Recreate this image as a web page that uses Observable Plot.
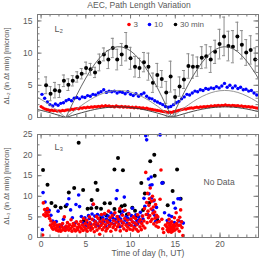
<!DOCTYPE html>
<html><head><meta charset="utf-8">
<script src="https://cdn.jsdelivr.net/npm/d3@7"></script>
<script src="https://cdn.jsdelivr.net/npm/@observablehq/plot@0.6"></script>
<style>
html,body{margin:0;padding:0;background:#fff;}
#chart{position:relative;width:259px;height:258px;overflow:hidden;}
#chart svg{position:absolute;left:0;display:block;}
</style></head><body><div id="chart"></div>
<script>
// ---------- texts ----------
const title = "AEC, Path Length Variation";
const yLabelTop = "ΔL₂ (in Δt min) [micron]";
const yLabelBot = "ΔL₃ (in Δt min) [micron]";
const xLabel = "Time of day (h, UT)";
const panelTop = "L₂";
const panelBot = "L₃";
const noData = "No Data";
const legendLabels = ["3", "10", "30 min"];
const seriesColors = ["#ff0000", "#0000ff", "#000000"];

// ---------- ticks ----------
const xMajor = [0, 5, 10, 15, 20];
const xMinor = [0,1,2,3,4,5,6,7,8,9,10,11,12,13,14,15,16,17,18,19,20,21,22,23,24];
const yTopMajor = [0, 5, 10, 15];
const yTopMinor = [0,1,2,3,4,5,6,7,8,9,10,11,12,13,14,15,16];
const yBotMajor = [0, 5, 10, 15, 20, 25];
const yBotMinor = [0,2.5,5,7.5,10,12.5,15,17.5,20,22.5,25];

// ---------- top panel: L2, 30 min (with errors) ----------
const hours30 = [0.56,1.06,1.55,2.05,2.55,3.05,3.54,4.04,4.54,5.03,5.53,6.03,6.52,7.02,7.52,8.02,8.51,9.01,9.51,10.0,10.5,11.0,11.5,12.0,12.5,12.99,13.49,13.99,14.48,14.98,15.48,15.97,16.47,16.97,17.47,17.96,18.46,18.96,19.45,19.95,20.45,20.94,21.44,21.94,22.44,22.93,23.43,23.93];
const dl2_30 = [5.0,3.7,4.25,4.1,5.7,5.1,5.7,6.3,6.8,7.7,7.5,7.0,8.55,9.8,9.0,10.8,9.0,9.8,11.0,9.2,7.9,7.7,8.6,7.9,5.4,6.6,6.0,3.9,6.35,3.2,4.8,5.9,8.0,7.9,7.9,9.3,9.5,9.0,10.2,11.4,12.6,11.1,11.0,12.6,11.3,10.1,10.5,9.0];
const err30 = [1.3,1.1,1.2,1.0,0.9,0.9,0.8,0.8,0.8,0.9,0.9,0.8,1.3,1.0,1.4,1.5,1.6,1.7,2.2,1.7,1.6,1.5,1.5,2.1,1.5,1.8,1.3,1.7,2.4,1.1,1.5,1.4,1.9,1.8,1.5,1.7,1.8,2.0,1.8,2.3,3.0,2.3,2.5,2.2,2.2,2.0,2.2,1.8];

// ---------- top panel: L2, 10 min ----------
const hours10 = [0.1,0.4,0.7,1.0,1.3,1.6,1.9,2.2,2.5,2.8,3.1,3.4,3.7,4.0,4.3,4.6,4.9,5.2,5.5,5.8,6.1,6.4,6.7,7.0,7.3,7.6,7.9,8.2,8.5,8.8,9.1,9.4,9.7,10.0,10.3,10.6,10.9,11.2,11.5,11.8,12.1,12.4,12.7,13.0,13.3,13.6,13.9,14.2,14.5,14.8,15.1,15.4,15.7,16.0,16.3,16.6,16.9,17.2,17.5,17.8,18.1,18.4,18.7,19.0,19.3,19.6,19.9,20.2,20.5,20.8,21.1,21.4,21.7,22.0,22.3,22.6,22.9,23.2,23.5,23.8,24.1];
const dl2_10 = [3.6,3.0,2.4,2.0,1.8,2.1,1.9,2.2,2.3,2.6,2.8,2.6,3.0,3.1,2.9,3.2,3.1,3.4,3.3,3.6,3.5,3.8,4.0,4.3,3.9,4.1,4.0,4.1,3.8,4.0,3.9,3.7,4.0,3.6,3.4,3.7,3.3,3.6,3.8,3.3,3.0,2.9,2.6,2.4,2.2,2.0,1.7,1.6,1.7,2.0,2.3,2.5,2.9,3.2,3.6,3.5,3.8,4.1,4.0,4.3,4.2,4.5,4.4,4.6,4.5,4.8,4.6,4.9,5.3,4.7,5.0,4.6,4.9,4.5,4.7,4.3,4.4,4.1,4.2,3.8,3.5];

// ---------- top panel: L2, 3 min ----------
const hours3 = [0.0,0.2,0.4,0.6,0.8,1.0,1.2,1.4,1.6,1.8,2.0,2.2,2.4,2.6,2.8,3.0,3.2,3.4,3.6,3.8,4.0,4.2,4.4,4.6,4.8,5.0,5.2,5.4,5.6,5.8,6.0,6.2,6.4,6.6,6.8,7.0,7.2,7.4,7.6,7.8,8.0,8.2,8.4,8.6,8.8,9.0,9.2,9.4,9.6,9.8,10.0,10.2,10.4,10.6,10.8,11.0,11.2,11.4,11.6,11.8,12.0,12.2,12.4,12.6,12.8,13.0,13.2,13.4,13.6,13.8,14.0,14.2,14.4,14.6,14.8,15.0,15.2,15.4,15.6,15.8,16.0,16.2,16.4,16.6,16.8,17.0,17.2,17.4,17.6,17.8,18.0,18.2,18.4,18.6,18.8,19.0,19.2,19.4,19.6,19.8,20.0,20.2,20.4,20.6,20.8,21.0,21.2,21.4,21.6,21.8,22.0,22.2,22.4,22.6,22.8,23.0,23.2,23.4,23.6,23.8,24.0,24.2];
const dl2_3 = [1.7,1.5,1.35,1.25,1.2,1.1,1.15,1.05,1.1,1.0,1.05,1.0,1.1,1.05,1.15,1.2,1.15,1.3,1.25,1.35,1.4,1.35,1.5,1.45,1.55,1.5,1.6,1.55,1.65,1.6,1.7,1.65,1.75,1.7,1.8,1.7,1.85,1.75,1.8,1.7,1.75,1.65,1.8,1.7,1.65,1.75,1.6,1.7,1.6,1.65,1.55,1.6,1.5,1.6,1.5,1.55,1.45,1.5,1.4,1.45,1.35,1.3,1.25,1.2,1.15,1.1,1.05,1.0,0.95,0.9,0.85,0.8,0.85,0.8,0.9,0.95,1.05,1.1,1.2,1.25,1.35,1.3,1.4,1.45,1.5,1.45,1.55,1.6,1.55,1.65,1.6,1.7,1.65,1.75,1.7,1.8,1.75,1.85,1.8,1.9,1.8,1.9,1.85,1.95,1.85,1.9,1.8,1.9,1.85,1.8,1.85,1.75,1.8,1.7,1.75,1.65,1.7,1.6,1.65,1.55,1.5,1.45];

// ---------- top panel: model curves (null = not drawn) ----------
const modelHours = [-0.4,0,0.5,1,1.5,2,2.5,2.77,3,3.5,4,4.5,5,5.5,6,6.5,7,7.5,8,8.5,9,9.5,10,10.5,11,11.5,12,12.5,13,13.5,14,14.5,14.62,15,15.5,16,16.5,17,17.5,18,18.5,19,19.5,20,20.5,21,21.5,22,22.5,23,23.5,24,24.3];
const model30 = [null,null,null,null,null,null,null,0,0.67,2.11,3.52,4.87,6.13,7.28,8.31,9.19,9.91,10.45,10.81,10.99,10.97,10.75,10.35,9.76,9.01,8.10,7.04,5.86,4.60,3.23,1.80,0.35,0,1.10,2.54,3.93,5.25,6.48,7.59,8.57,9.41,10.09,10.58,10.89,11.00,10.91,10.64,10.18,9.54,8.73,7.78,6.72,6.01];
const model10 = [3.13,2.81,2.38,1.90,1.39,0.85,0.30,0,0.26,0.81,1.34,1.86,2.34,2.78,3.17,3.51,3.78,3.99,4.13,4.20,4.19,4.10,3.95,3.73,3.44,3.09,2.69,2.24,1.76,1.23,0.69,0.13,0,0.42,0.97,1.50,2.00,2.47,2.90,3.27,3.59,3.85,4.04,4.16,4.20,4.17,4.06,3.89,3.64,3.33,2.97,2.57,2.29];
const model3 = [1.23,1.11,0.93,0.75,0.54,0.33,0.12,0,0.10,0.32,0.53,0.73,0.92,1.09,1.25,1.38,1.49,1.57,1.62,1.65,1.64,1.61,1.55,1.46,1.35,1.21,1.06,0.88,0.69,0.49,0.27,0.05,0,0.17,0.38,0.59,0.79,0.97,1.14,1.29,1.41,1.51,1.59,1.63,1.65,1.64,1.60,1.53,1.43,1.31,1.17,1.01,0.90];

// ---------- bottom panel: L3 ----------
const l3Hours30 = [0.22,0.72,1.16,1.6,2.2,2.75,3.1,3.7,4.2,4.7,4.8,5.2,5.6,5.65,6.1,6.3,6.2,6.7,6.6,7.1,7.3,7.7,7.6,8.2,8.6,8.2,8.8,9.15,9.0,9.35,9.6,10.2,10.5,10.7,11.2,11.6,11.4,12.2,12.65,12.7,12.1,13.0,13.6,14.15,14.7,15.2,15.6];
const l3Vals30 = [16.4,12.8,8.4,7.6,7.2,7.6,10.9,12.0,23.0,11.5,4.2,7.0,7.1,9.1,13.3,11.5,7.2,7.0,4.7,8.3,5.4,8.3,4.0,16.5,19.3,6.9,6.4,16.3,7.6,7.8,5.6,7.2,6.5,5.2,13.2,10.7,6.7,18.5,20.1,15.0,8.4,4.1,13.3,7.8,11.3,16.5,9.4];
const l3Hours10 = [0.15,0.22,0.45,0.6,0.8,0.9,1.1,1.3,1.5,1.7,1.9,2.1,2.3,2.5,2.7,2.9,3.1,3.3,3.5,3.8,3.9,4.2,4.3,4.5,4.7,4.9,5.0,5.1,5.3,5.4,5.5,5.6,5.7,5.8,5.9,6.0,6.1,6.2,6.3,6.4,6.5,6.6,6.7,6.8,6.9,7.0,7.1,7.2,7.3,7.4,7.5,7.6,7.7,7.8,7.9,8.0,8.1,8.2,8.3,8.4,8.5,8.6,8.7,8.8,8.9,9.0,9.1,9.2,9.3,9.4,9.5,9.6,9.7,9.8,9.9,10.0,10.1,10.2,10.3,10.4,10.5,10.6,10.7,10.8,10.9,11.0,11.1,11.2,11.3,11.4,11.5,11.6,11.7,11.8,11.9,12.0,12.05,12.3,12.2,12.4,12.35,12.5,12.6,12.7,12.8,12.9,13.0,13.3,13.5,13.6,13.8,14.1,14.3,14.5,14.6,14.8,14.9,15.0,15.3,15.5,15.4,15.7,15.9];
const l3Vals10 = [1.9,10.9,8.6,6.7,6.3,6.6,5.4,4.0,3.5,3.9,6.4,2.7,3.1,4.4,2.5,8.0,9.4,6.7,4.8,3.5,8.0,10.3,7.5,5.1,3.5,4.8,2.8,3.6,5.3,4.6,3.3,2.3,5.7,8.0,4.2,5.2,3.8,3.0,5.6,4.6,2.7,4.0,5.4,3.4,4.8,3.9,5.6,2.6,4.5,3.7,5.2,2.9,4.1,6.0,3.4,4.8,5.6,3.2,4.4,9.4,11.4,3.8,5.0,2.6,4.5,5.7,3.6,6.4,9.8,4.2,5.0,3.4,4.7,5.8,3.1,4.4,5.3,7.1,3.7,4.9,2.9,5.5,4.1,3.3,5.0,4.3,6.1,3.6,5.2,4.5,9.5,7.6,24.7,23.7,5.6,14.2,10.6,14.7,12.7,12.8,9.6,6.6,8.9,5.4,3.9,7.3,4.8,24.9,13.2,13.3,6.0,4.1,5.4,3.7,5.1,8.4,3.6,7.1,9.4,9.4,4.0,3.8,3.5];
const l3Hours3 = [0.18,0.25,0.3,0.4,0.5,0.55,0.65,0.7,0.8,0.85,0.95,
 1.05,1.1,1.2,1.3,1.35,1.45,1.5,1.6,1.7,1.75,1.85,1.95,
 2.05,2.1,2.2,2.3,2.4,2.45,2.55,2.6,2.7,2.8,2.9,2.95,
 3.05,3.1,3.2,3.3,3.35,3.45,3.5,3.6,3.7,3.75,3.85,3.95,
 4.05,4.1,4.2,4.3,4.35,4.45,4.5,4.6,4.7,4.75,4.85,4.95,
 5.0,5.1,5.15,5.25,5.3,5.4,5.45,5.55,5.6,5.7,5.75,5.85,5.9,5.95,
 6.05,6.1,6.2,6.25,6.35,6.4,6.5,6.55,6.6,6.7,6.75,6.85,6.9,6.95,
 7.05,7.1,7.2,7.25,7.35,7.4,7.5,7.55,7.65,7.7,7.8,7.85,7.95,
 8.05,8.1,8.2,8.25,8.35,8.4,8.5,8.55,8.65,8.7,8.8,8.85,8.95,
 9.05,9.1,9.2,9.25,9.35,9.4,9.5,9.55,9.65,9.7,9.8,9.85,9.95,
 10.05,10.1,10.2,10.25,10.35,10.4,10.5,10.55,10.65,10.7,10.8,10.85,10.95,
 11.05,11.1,11.2,11.25,11.35,11.4,11.5,11.55,11.6,11.7,11.75,11.8,11.85,11.9,11.95,
 12.0,12.05,12.1,12.15,12.2,12.25,12.3,12.35,12.4,12.45,12.5,12.55,12.6,12.65,12.7,12.75,12.8,12.85,12.9,12.95,
 13.05,13.1,13.2,13.3,13.4,13.5,13.6,13.7,13.9,
 14.05,14.1,14.15,14.2,14.25,14.3,14.35,14.4,14.45,14.5,14.55,14.6,14.65,14.7,14.75,14.8,14.85,14.9,14.95,
 15.0,15.1,15.15,15.2,15.3,15.35,15.45,15.5,15.55,15.6,15.7,15.75,15.85];
const l3Vals3 = [0.6,8.4,5.5,6.8,5.2,6.1,5.6,7.0,5.3,6.2,4.6,
 3.0,4.0,2.4,3.3,2.0,2.8,3.6,2.2,1.8,3.0,2.5,1.6,
 3.1,2.0,1.5,2.6,3.4,1.9,2.3,5.0,1.7,2.8,2.1,3.6,
 2.6,1.8,3.1,2.2,4.3,1.5,2.7,3.4,2.0,2.9,1.6,3.8,
 2.4,1.9,3.2,2.6,1.4,3.9,2.2,3.0,1.7,4.6,2.5,3.4,
 2.0,4.2,1.5,3.0,2.4,5.0,3.6,1.8,2.8,4.4,2.2,8.1,3.2,1.4,
 3.8,2.6,5.1,1.8,3.3,4.6,2.3,0.8,3.9,2.9,5.6,1.9,3.5,4.3,
 2.5,5.8,3.1,1.6,4.0,2.2,3.6,6.4,2.7,4.8,1.5,3.3,5.3,
 2.4,4.1,3.0,6.0,1.9,3.7,5.1,2.6,4.4,3.2,7.0,1.6,4.0,
 2.8,5.4,3.5,2.1,4.6,6.6,3.0,1.7,4.2,2.5,5.7,3.4,2.0,
 4.5,2.9,3.8,1.8,5.0,2.4,3.5,4.6,2.0,3.1,5.5,1.5,3.9,
 2.6,4.3,1.9,3.4,5.2,2.8,4.0,7.0,2.3,15.8,5.6,8.5,3.6,10.7,6.4,
 4.8,7.8,9.4,5.3,12.0,3.9,6.9,8.8,4.4,10.0,5.9,7.4,3.3,9.1,6.2,4.7,8.0,2.8,5.4,3.7,
 5.0,2.5,3.9,9.3,16.4,4.4,2.1,1.2,3.0,
 2.6,1.8,3.5,2.2,1.4,4.4,2.9,1.9,3.3,2.5,1.3,3.8,2.0,2.7,1.6,3.1,2.3,4.8,1.8,
 2.8,6.0,3.4,2.1,4.2,2.9,1.5,4.9,3.0,6.7,3.8,2.4,0.5];

// ---------- build tables ----------
const top30 = hours30.map((h, i) => ({h, v: dl2_30[i], e: err30[i]}));
const top10 = hours10.map((h, i) => ({h, v: dl2_10[i]}));
const top3 = hours3.map((h, i) => ({h, v: dl2_3[i]}));
const models = [model3, model10, model30].map(m => modelHours.map((h, i) => ({h, v: m[i]})));
const bot30 = l3Hours30.map((h, i) => ({h, v: l3Vals30[i]}));
const bot10 = l3Hours10.map((h, i) => ({h, v: l3Vals10[i]}));
const bot3 = l3Hours3.map((h, i) => ({h, v: l3Vals3[i]}));

// ---------- styling ----------
const W = 259, ML = 37, MR = 1;
const FH = 103, FW = W - ML - MR;
const axisColor = "#7a7a7a";
const textColor = "#5a5a5a";
const font = "'Liberation Sans', Arial, sans-serif";
const xDomain = [-0.4, 24.3];

function frameTicks(yMaj, yMin) {
  const s = {stroke: axisColor, strokeWidth: 1};
  const maj = 4.5, mn = 2.5;
  return [
    Plot.tickX(xMinor, {x: d => d, insetTop: FH - mn, ...s}),
    Plot.tickX(xMinor, {x: d => d, insetBottom: FH - mn, ...s}),
    Plot.tickX(xMajor, {x: d => d, insetTop: FH - maj, ...s}),
    Plot.tickX(xMajor, {x: d => d, insetBottom: FH - maj, ...s}),
    Plot.tickY(yMin, {y: d => d, insetRight: FW - mn, ...s}),
    Plot.tickY(yMin, {y: d => d, insetLeft: FW - mn, ...s}),
    Plot.tickY(yMaj, {y: d => d, insetRight: FW - maj, ...s}),
    Plot.tickY(yMaj, {y: d => d, insetLeft: FW - maj, ...s}),
    Plot.frame({stroke: axisColor, strokeWidth: 1})
  ];
}

function label(txt, opts) {
  return Plot.text([txt], {x: null, y: null, text: d => d, fill: textColor, lineAnchor: "middle", ...opts});
}

const legendDx = [91.5, 112, 138];
const legendMarks = legendLabels.flatMap((lab, i) => [
  Plot.dot([lab], {x: null, y: null, frameAnchor: "top-left", dx: legendDx[i], dy: 10, r: 1.8, fill: seriesColors[i], stroke: "none"}),
  label(lab, {frameAnchor: "top-left", dx: legendDx[i] + 4.5, dy: 10, textAnchor: "start", fontSize: 8})
]);

const topPlot = Plot.plot({
  width: W, height: 120, marginTop: 14, marginBottom: 3, marginLeft: ML, marginRight: MR,
  x: {domain: xDomain, axis: null},
  y: {domain: [0, 16]},
  style: {fontFamily: font, fontSize: "8px", color: textColor, background: "transparent", overflow: "visible"},
  marks: [
    Plot.dot(top3, {x: "h", y: "v", r: 1.6, fill: seriesColors[0], stroke: "none"}),
    Plot.dot(top10, {x: "h", y: "v", r: 1.7, fill: seriesColors[1], stroke: "none"}),
    Plot.ruleX(top30, {x: "h", y1: d => d.v - d.e, y2: d => d.v + d.e, stroke: "#8c8c8c", strokeWidth: 1}),
    Plot.ruleY(top30, {y: d => d.v + d.e, x1: d => d.h - 0.17, x2: d => d.h + 0.17, stroke: "#8c8c8c", strokeWidth: 1}),
    Plot.ruleY(top30, {y: d => d.v - d.e, x1: d => d.h - 0.17, x2: d => d.h + 0.17, stroke: "#8c8c8c", strokeWidth: 1}),
    Plot.dot(top30, {x: "h", y: "v", r: 2.0, fill: seriesColors[2], stroke: "none"}),
    Plot.line(models[2], {x: "h", y: "v", stroke: "#555", strokeWidth: 0.9}),
    Plot.line(models[1], {x: "h", y: "v", stroke: "#8a8a8a", strokeWidth: 0.9}),
    Plot.line(models[0], {x: "h", y: "v", stroke: "#333", strokeWidth: 0.9}),
    ...frameTicks(yTopMajor, yTopMinor),
    Plot.axisY({ticks: yTopMajor, tickSize: 0, tickPadding: 5, label: null, fontSize: 8.5, fill: textColor}),
    label(yLabelTop, {frameAnchor: "left", dx: -31, rotate: -90, textAnchor: "middle", fontSize: 7.5}),
    label(title, {frameAnchor: "top", dy: -9, dx: -9, textAnchor: "middle", fontSize: 8.5}),
    label(panelTop, {frameAnchor: "top-left", dx: 17, dy: 15, textAnchor: "start", fontSize: 9}),
    ...legendMarks
  ]
});

const botPlot = Plot.plot({
  width: W, height: 138, marginTop: 14, marginBottom: 21, marginLeft: ML, marginRight: MR,
  x: {domain: xDomain},
  y: {domain: [0, 25]},
  style: {fontFamily: font, fontSize: "8px", color: textColor, background: "transparent", overflow: "visible"},
  marks: [
    Plot.dot(bot30, {x: "h", y: "v", r: 2.0, fill: seriesColors[2], stroke: "none"}),
    Plot.dot(bot10, {x: "h", y: "v", r: 1.8, fill: seriesColors[1], stroke: "none"}),
    Plot.dot(bot3, {x: "h", y: "v", r: 1.8, fill: seriesColors[0], stroke: "none"}),
    ...frameTicks(yBotMajor, yBotMinor),
    Plot.axisY({ticks: yBotMajor, tickSize: 0, tickPadding: 5, label: null, fontSize: 8.5, fill: textColor}),
    Plot.axisX({ticks: xMajor, tickSize: 0, tickPadding: 3, label: null, fontSize: 8.5, fill: textColor}),
    label(yLabelBot, {frameAnchor: "left", dx: -31, rotate: -90, textAnchor: "middle", fontSize: 7.5}),
    label(xLabel, {frameAnchor: "bottom", dy: 16, textAnchor: "middle", fontSize: 8.5}),
    label(panelBot, {frameAnchor: "top-left", dx: 17, dy: 13, textAnchor: "start", fontSize: 9}),
    label(noData, {frameAnchor: "top-left", dx: 166, dy: 48, textAnchor: "start", fontSize: 8.5})
  ]
});

const chart = document.getElementById("chart");
topPlot.style.top = "0px";
botPlot.style.top = "120px";
chart.appendChild(topPlot);
chart.appendChild(botPlot);
</script>
</body></html>
